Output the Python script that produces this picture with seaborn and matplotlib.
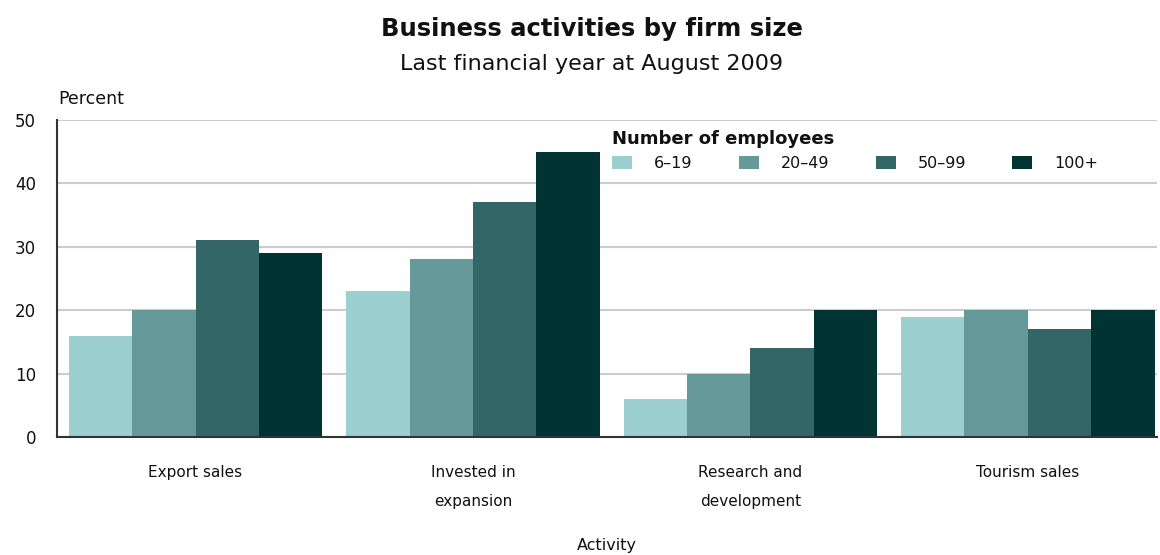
import matplotlib
matplotlib.use("Agg")
import matplotlib.pyplot as plt
import seaborn as sns
import pandas as pd

activities = ["Export sales", "Invested in\nexpansion", "Research and\ndevelopment", "Tourism sales"]
size_bands = ["6\u201319", "20\u201349", "50\u201399", "100+"]
values_6_19 = [16, 23, 6, 19]
values_20_49 = [20, 28, 10, 20]
values_50_99 = [31, 37, 14, 17]
values_100_plus = [29, 45, 20, 20]
band_colors = ["#9ccfd0", "#669999", "#336666", "#003333"]
y_ticks = [0, 10, 20, 30, 40, 50]

series = [values_6_19, values_20_49, values_50_99, values_100_plus]
rows = []
for band, vals in zip(size_bands, series):
    for act, v in zip(activities, vals):
        rows.append({"Activity": act, "Employees": band, "Percent": v})
df = pd.DataFrame(rows)

sns.set_theme(style="white")
plt.rcParams["font.family"] = ["DejaVu Sans"]
plt.rcParams["text.color"] = "#111111"

fig = plt.figure(figsize=(11.6, 5.55), dpi=100)
ax = fig.add_axes([0.049, 0.2126, 0.948, 0.5712])

sns.barplot(data=df, x="Activity", y="Percent", hue="Employees",
            order=activities, hue_order=size_bands,
            palette=band_colors, saturation=1, width=0.914,
            edgecolor="none", linewidth=0, ax=ax)

ax.set_ylim(0, 50)
ax.set_xlim(-0.5, 3.464)
ax.set_yticks(y_ticks)
ax.set_yticklabels([str(t) for t in y_ticks], fontsize=12, color="#111111")
ax.tick_params(axis="y", length=0, pad=15)
ax.tick_params(axis="x", length=0, pad=20, labelsize=11)
for lbl in ax.get_xticklabels():
    lbl.set_linespacing(2.2)
    lbl.set_color("#111111")
ax.yaxis.grid(True, color="#cccccc", linewidth=1.5)
ax.set_axisbelow(True)
for side in ["top", "right"]:
    ax.spines[side].set_visible(False)
ax.spines["left"].set_color("#333333")
ax.spines["left"].set_linewidth(1.5)
ax.spines["bottom"].set_color("#333333")
ax.spines["bottom"].set_linewidth(1.5)

ax.set_ylabel("")
ax.set_xlabel("Activity", fontsize=11.5, color="#111111", va="top")
ax.xaxis.set_label_coords(0.5, -0.318)

fig.text(0.05, 0.822, "Percent", fontsize=12.5, color="#111111", ha="left", va="center")
fig.text(0.51, 0.948, "Business activities by firm size", fontsize=17.5,
         fontweight="bold", ha="center", va="center", color="#111111")
fig.text(0.51, 0.884, "Last financial year at August 2009", fontsize=16,
         ha="center", va="center", color="#111111")

handles, labels = ax.get_legend_handles_labels()
leg = ax.legend(handles, labels, title="Number of employees", ncol=4,
                loc="upper left", bbox_to_anchor=(0.505, 0.97),
                frameon=False, fontsize=11.5, alignment="left",
                handlelength=1.25, handleheight=0.875, handletextpad=1.375,
                columnspacing=2.9, borderaxespad=0, borderpad=0,
                labelspacing=0.6)
leg.get_title().set_fontweight("bold")
leg.get_title().set_fontsize(13)
leg.get_title().set_color("#111111")
for t in leg.get_texts():
    t.set_color("#111111")
leg._legend_box.sep = 6

fig.savefig("out.png", dpi=100)
